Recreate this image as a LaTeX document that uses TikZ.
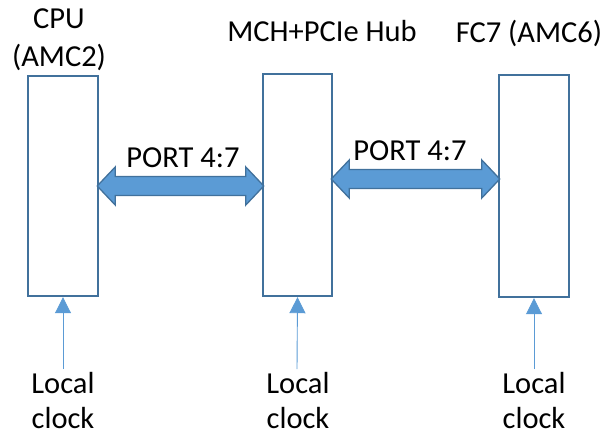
\documentclass[tikz,border=0pt]{standalone}
\usepackage{fontspec}
\setmainfont{Carlito}
\usetikzlibrary{calc,arrows.meta}
\definecolor{boxline}{HTML}{41719C}
\definecolor{busfill}{HTML}{5B9BD5}
\tikzset{
  card/.style={draw=boxline, line width=2.4pt, fill=white, minimum width=70pt, inner sep=0pt},
  bus/.style={draw=boxline, line width=1.3pt, fill=busfill, line join=miter},
  clk/.style={draw=busfill, line width=0.9pt, -{Triangle[width=16pt,length=16pt]}},
  lbl/.style={font=\fontsize{30.5}{37}\selectfont, align=center, inner sep=0pt},
  twoline/.style={font=\fontsize{30.5}{#1}\selectfont},
}
% fat double-headed arrow between the east side of #1 and the west side of #2 at height #3
\newcommand\busarrow[3]{%
  \draw[bus] let \p1=(#1.east), \p2=(#2.west) in
    (\x1-2pt,#3) -- (\x1+16pt,#3+19pt) -- (\x1+16pt,#3+9.5pt) -- (\x2-16pt,#3+9.5pt)
    -- (\x2-16pt,#3+19pt) -- (\x2+2pt,#3) -- (\x2-16pt,#3-19pt) -- (\x2-16pt,#3-9.5pt)
    -- (\x1+16pt,#3-9.5pt) -- (\x1+16pt,#3-19pt) -- cycle;}
\begin{document}
\begin{tikzpicture}[x=1pt,y=1pt]
  \useasboundingbox (0,0) rectangle (610,432);
  % modules
  \node[card, minimum height=220pt] (cpu) at (63,246) {};
  \node[card, minimum height=222pt, minimum width=69pt] (hub) at (297.5,247) {};
  \node[card, minimum height=222pt] (fc7) at (534,246) {};
  % titles (base anchor sits on the last line)
  \node[lbl, twoline=38, anchor=base] (tcpu) at (59,365) {CPU\\(AMC2)};
  \node[lbl, anchor=base] (thub) at (322,390) {MCH+PCIe Hub};
  \node[lbl, anchor=base] (tfc7) at (529,389) {FC7 (AMC6)};
  % PCIe links
  \busarrow{cpu}{hub}{246pt}
  \busarrow{hub}{fc7}{253pt}
  \node[lbl, anchor=base] (p1) at (183,265) {PORT 4:7};
  \node[lbl, anchor=base] (p2) at (410,272) {PORT 4:7};
  % local clocks
  \coordinate (ccpu) at (63,63);
  \coordinate (chub) at (297,63);
  \coordinate (cfc7) at (534,63);
  \draw[clk] (ccpu) -- (cpu.south);
  \draw[clk] (chub) -- (hub.south);
  \draw[clk] (cfc7) -- (fc7.south);
  \node[lbl, twoline=35, anchor=base] (lcpu) at (63,4) {Local\\clock};
  \node[lbl, twoline=35, anchor=base] (lhub) at (298,4) {Local\\clock};
  \node[lbl, twoline=35, anchor=base] (lfc7) at (534,4) {Local\\clock};
\end{tikzpicture}
\end{document}
